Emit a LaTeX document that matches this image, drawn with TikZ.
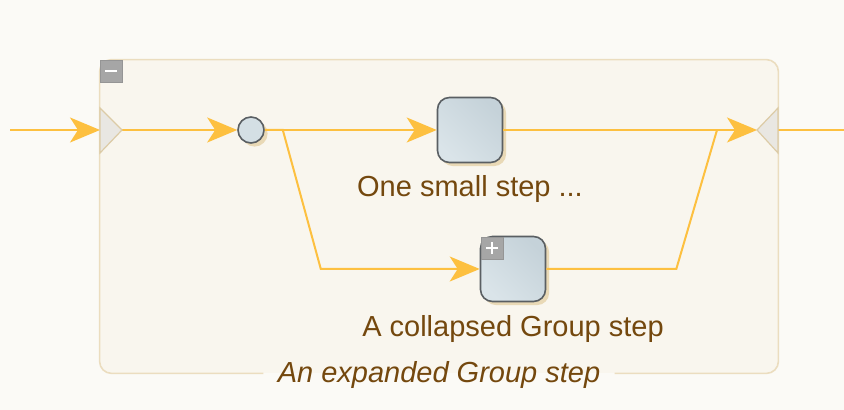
\documentclass[tikz,border=0pt]{standalone}
\usepackage{fontspec}
\setmainfont{Liberation Sans}
\usetikzlibrary{arrows.meta,shadows,positioning}
\definecolor{flow}{HTML}{FDC040}
\definecolor{frameline}{HTML}{EBDDBF}
\definecolor{framefill}{HTML}{F9F6EE}
\definecolor{paper}{HTML}{FBFAF6}
\definecolor{steptop}{HTML}{DAE4E9}
\definecolor{stepbottom}{HTML}{C5D2D9}
\definecolor{stepline}{HTML}{5A5F63}
\definecolor{shade}{HTML}{E9D9B6}
\definecolor{labeltext}{HTML}{74480E}
\definecolor{gatefill}{HTML}{E9E7E2}
\definecolor{gateline}{HTML}{DCCBA6}
\definecolor{togglefill}{HTML}{A6A6A6}
\tikzset{
  flowline/.style={draw=flow, line width=1pt},
  flowarrow/.style={flowline, -{Stealth[length=15pt,width=12.5pt,inset=4pt]}},
  tanshadow/.style={drop shadow={fill=shade, opacity=1, shadow xshift=1.8pt, shadow yshift=-1.8pt}},
  stepbox/.style={draw=stepline, line width=0.8pt, rounded corners=6pt, minimum size=32.5pt,
    left color=steptop, right color=stepbottom, shading angle=135, tanshadow},
  dotnode/.style={circle, draw=stepline, line width=0.8pt, minimum size=13pt, inner sep=0pt,
    fill=steptop!70!stepbottom, tanshadow},
  groupbox/.style={fill=framefill, rounded corners=6pt, minimum width=339pt, minimum height=156.5pt},
  groupedge/.style={draw=frameline, line width=0.8pt, rounded corners=6pt},
  gate/.style={draw=gateline, line width=0.6pt, fill=gatefill},
  toggle/.style={draw=togglefill!90!black, line width=0.4pt, fill=togglefill, minimum size=11pt,
    inner sep=0pt, anchor=north west},
  sign/.style={draw=white, line width=1.2pt},
  labeltxt/.style={text=labeltext, font=\fontsize{14.5pt}{17pt}\selectfont, anchor=base},
}
\begin{document}
\begin{tikzpicture}[x=0.5pt,y=-0.5pt]
    \useasboundingbox[fill=paper] (0,0) rectangle (844,410);
    % expanded group
    \node[groupbox](group)at(439,216.5){};
    \node[labeltxt,inner xsep=7pt](grouplabel)at(439,383){\itshape An expanded Group step};
    \draw[groupedge](grouplabel.east|-group.south)-|(group.north east)-|(group.south west)--(grouplabel.west|-group.south);
    \node[toggle](collapse)at(group.north west){};
    \draw[sign]([xshift=-3pt]collapse.center)--([xshift=3pt]collapse.center);
    % steps
    \node[dotnode](dot)at(251,130){};
    \node[stepbox](small)at(470,130){};
    \node[labeltxt](smalllabel)at(470,197){One small step ...};
    \node[stepbox](inner)at(513,269){};
    \node[labeltxt](innerlabel)at(513,337){A collapsed Group step};
    \node[toggle](expand)at([shift={(0.5pt,-0.5pt)}]inner.north west){};
    \draw[sign]([xshift=-3pt]expand.center)--([xshift=3pt]expand.center);
    \draw[sign]([yshift=-3pt]expand.center)--([yshift=3pt]expand.center);
    % entry and exit
    \coordinate(start)at(10,130);
    \coordinate(inbase)at(100,130);
    \coordinate(intip)at(122,130);
    \coordinate(merge)at(717,130);
    \coordinate(outtip)at(757,130);
    \coordinate(outbase)at(778,130);
    \coordinate(finish)at(844,130);
    % flow
    \draw[flowarrow](start)--(inbase);
    \draw[flowarrow](intip)--(dot.west);
    \draw[flowarrow](dot.east)--(small.west);
    \draw[flowarrow](dot.east)--++(18,0)--++(38,139)--(inner.west);
    \draw[flowline](inner.east)--++(130,0)--(merge);
    \draw[flowarrow](small.east)--(outtip);
    \draw[flowline](outbase)--(finish);
    \draw[gate](inbase)--++(0,-22)--(intip)--++(-22,23)--cycle;
    \draw[gate](outbase)--++(0,-22)--(outtip)--++(21,23)--cycle;
\end{tikzpicture}
\end{document}
